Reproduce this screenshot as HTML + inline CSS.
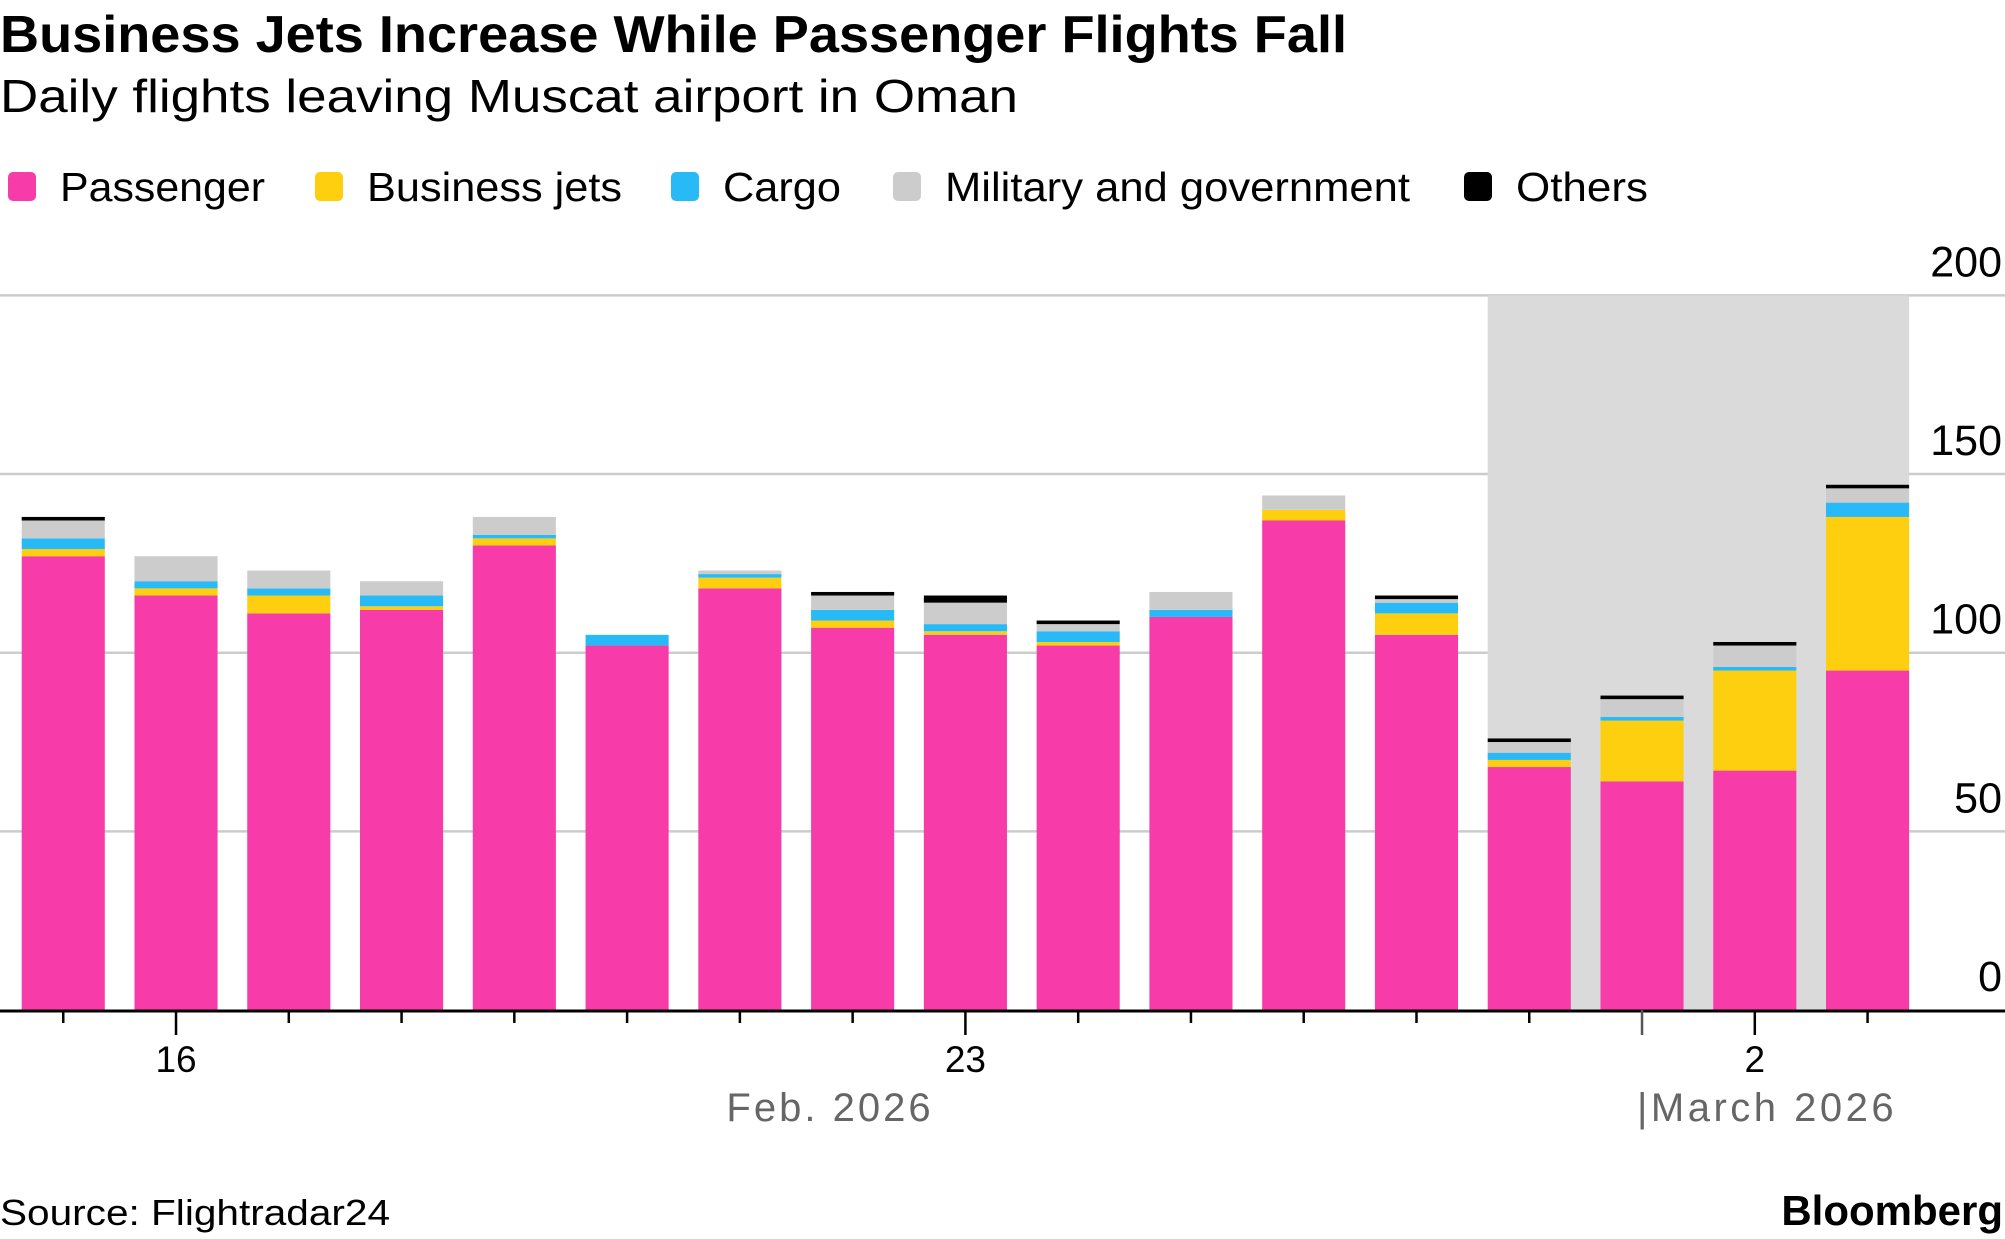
<!DOCTYPE html>
<html><head><meta charset="utf-8"><style>
html,body{margin:0;padding:0;background:#fff;}
svg{display:block;font-family:"Liberation Sans",sans-serif;}
</style></head><body>
<svg id="chart" width="2005" height="1239" viewBox="0 0 2005 1239">
<text x="0" y="52" font-size="52" font-weight="bold" textLength="1347" lengthAdjust="spacingAndGlyphs">Business Jets Increase While Passenger Flights Fall</text>
<text x="0" y="112" font-size="46" textLength="1018" lengthAdjust="spacingAndGlyphs">Daily flights leaving Muscat airport in Oman</text>
<g id="legend"></g>
<g id="grid"></g>
<rect id="shade" fill="#dadada"></rect>
<g id="bars"></g>
<g id="xaxis"></g>
<text x="0" y="1225" font-size="36" textLength="390" lengthAdjust="spacingAndGlyphs">Source: Flightradar24</text>
<text x="2003" y="1225" font-size="42" font-weight="bold" text-anchor="end">Bloomberg</text>
</svg>
<script>
const days = ["15","16","17","18","19","20","21","22","23","24","25","26","27","28","1","2","3"];
const passenger = [127,116,111,112,130,102,118,107,105,102,110,137,105,68,64,67,95];
const businessJets = [2,2,5,1,2,0,3,2,1,1,0,3,6,2,17,28,43];
const cargo = [3,2,2,3,1,3,1,3,2,3,2,0,3,2,1,1,4];
const military = [5,7,5,4,5,0,1,4,6,2,5,4,1,3,5,6,4];
const others = [1,0,0,0,0,0,0,1,2,1,0,0,1,1,1,1,1];
const yTicks = [0,50,100,150,200];
const seriesNames = ["Passenger","Business jets","Cargo","Military and government","Others"];
const shadeFromIndex = 13;

const NS="http://www.w3.org/2000/svg";
const colors=["#f73ba8","#fdcf0e","#27baf7","#cccccc","#000000"];
const y0=1010, yTop=295.4, yMax=200;
const y=v=>y0-(y0-yTop)*v/yMax;
const step=112.77, bw=83.1, x0=21.7;
const xb=i=>x0+i*step;
function mk(tag,attrs,parent){const e=document.createElementNS(NS,tag);for(const k in attrs)e.setAttribute(k,attrs[k]);parent.appendChild(e);return e;}

const lg=document.getElementById('legend');
const lx=[8,315,671,893,1464], lw=[205,255,118,465,132];
seriesNames.forEach((n,i)=>{
  const r=mk('rect',{x:lx[i],y:172,width:28,height:29,rx:5,fill:colors[i]},lg);
  
  
  const t=mk('text',{x:lx[i]+52,y:201,'font-size':41,textLength:lw[i],lengthAdjust:'spacingAndGlyphs'},lg);
  t.textContent=n;
  
  
});

const g=document.getElementById('grid');
yTicks.forEach(v=>{
  if(v>0){const l=mk('line',{x1:0,x2:2005,y1:y(v),y2:y(v),stroke:'#cccccc','stroke-width':2.5},g);
  
  }
  const t=mk('text',{x:2002,y:y(v)-19,'font-size':43,'text-anchor':'end'},g);
  t.textContent=v;
  
  
});
const sh=document.getElementById('shade');
sh.setAttribute('x',xb(shadeFromIndex));sh.setAttribute('y',y(200));
sh.setAttribute('width',xb(days.length-1)+bw-xb(shadeFromIndex));sh.setAttribute('height',y(0)-y(200));

const bg=document.getElementById('bars');
const series=[passenger,businessJets,cargo,military,others];
days.forEach((d,i)=>{
  let acc=0;
  series.forEach((s,k)=>{
    const v=s[i]; if(!v) return;
    const r=mk('rect',{x:xb(i),y:y(acc+v),width:bw,height:y(acc)-y(acc+v),fill:colors[k]},bg);
    
    
    acc+=v;
  });
});

const xa=document.getElementById('xaxis');
const base=mk('line',{x1:0,x2:2005,y1:y0+1,y2:y0+1,stroke:'#000','stroke-width':3},xa);


const labeled={"16":1,"23":1,"2":1};
days.forEach((d,i)=>{
  const cx=xb(i)+bw/2;
  const long=labeled[d]||d==="1";
  const tk=mk('line',{x1:cx,x2:cx,y1:y0,y2:y0+(long?25:13),stroke:d==="1"?'#555':'#000','stroke-width':2.5},xa);
  
  
  if(labeled[d]){
    const t=mk('text',{x:cx,y:1072,'font-size':37,'text-anchor':'middle'},xa);
    t.textContent=d;
    
    
  }
});
const fm=mk('text',{x:830,y:1121,'font-size':40,'text-anchor':'middle',fill:'#666','letter-spacing':3},xa);
fm.textContent="Feb. 2026";


const mm=mk('text',{x:1637,y:1121,'font-size':40,fill:'#666','letter-spacing':3.5},xa);
mm.textContent="|March 2026";


</script>
</body></html>
